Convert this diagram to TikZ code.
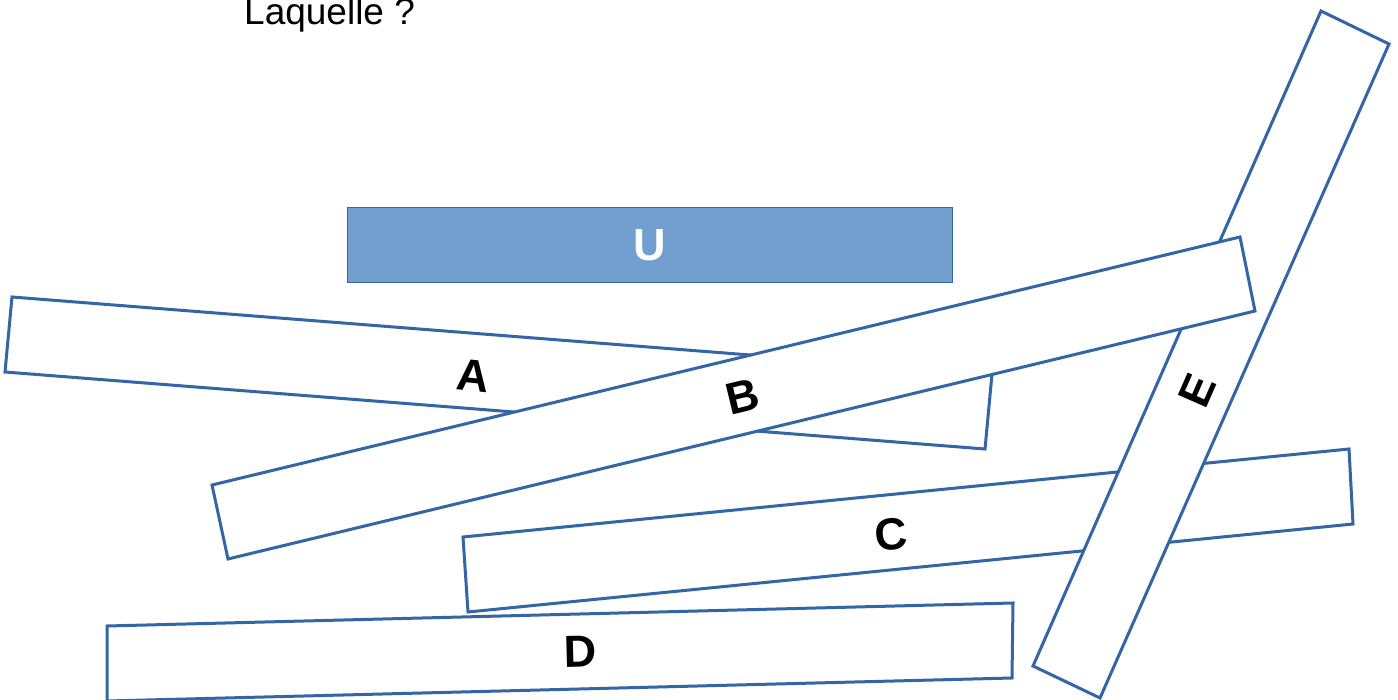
\documentclass[tikz,border=0pt]{standalone}
\usepackage{fontspec}
\setmainfont{Liberation Sans}
\definecolor{edge}{HTML}{3465A4}
\definecolor{ufill}{HTML}{729FCF}
\tikzset{
  plank/.style={draw=edge, fill=white, line width=3pt, line join=miter},
  lab/.style={font=\fontsize{45}{48}\selectfont\bfseries, text=black, inner sep=0pt},
}
\begin{document}
\begin{tikzpicture}[x=1pt,y=-1pt]
\useasboundingbox (0,0) rectangle (1398,700);
\fill[white] (0,0) rectangle (1398,700);
% title
\node[anchor=base west, inner sep=0pt, font=\fontsize{37}{40}\selectfont] (title) at (244,25) {Laquelle ?};
% A
\draw[plank] (12,297) -- (992,374) -- (985,449) -- (5,372) -- cycle;
\node[lab, rotate=-6] (la) at (473,376) {A};
% C
\draw[plank] (463,537) -- (1349,449) -- (1353,524) -- (468,612) -- cycle;
\node[lab, rotate=5.7] (lc) at (891,534) {C};
% D
\draw[plank] (107,626) -- (1013,603) -- (1012,678) -- (107,701) -- cycle;
\node[lab, rotate=1.45] (ld) at (580,652) {D};
% E
\draw[plank] (1321,11) -- (1389,44) -- (1100,698) -- (1033,666) -- cycle;
\node[lab, rotate=66.3] (le) at (1197,391) {E};
% B
\draw[plank] (212,485) -- (1240,237) -- (1255,311) -- (228,559) -- cycle;
\node[lab, rotate=13.6] (lb) at (743,397) {B};
% U
\node[draw=edge, fill=ufill, line width=1pt, minimum width=605pt, minimum height=75pt, inner sep=0pt,
      text=white, font=\fontsize{45}{48}\selectfont\bfseries] (u) at (649.5,245.5) {U};
\end{tikzpicture}
\end{document}
